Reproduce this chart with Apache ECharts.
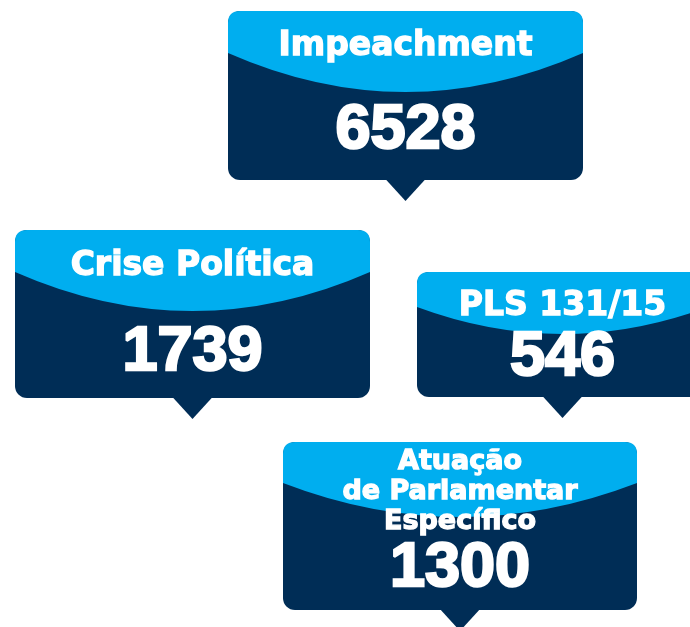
<!DOCTYPE html>
<html>
<head>
<meta charset="utf-8">
<script src="https://cdn.jsdelivr.net/npm/echarts@6/dist/echarts.min.js"></script>
<style>
  html, body { margin: 0; padding: 0; background: #fff; }
  #main { width: 690px; height: 627px; }
</style>
</head>
<body>
<div id="main"></div>
<script>
// dados
const categories = ['Impeachment', 'Crise Política', 'PLS 131/15', 'Atuação\nde Parlamentar\nEspecífico'];
const values = [6528, 1739, 546, 1300];

// posição de cada balão (em px da tela): esquerda, topo, largura, altura, curva borda, curva meio, y titulo, y numero
const boxes = [
  [228, 11, 355, 169, 42, 81, 46, 131],
  [15, 230, 355, 168, 42, 81, 266, 353],
  [417, 272, 291, 125, 35, 62, 306, 358],
  [283, 442, 354, 168, 41, 75, 492, 569]
];

const dark = '#002d56';
const light = '#00aeef';

let chart = echarts.init(document.getElementById('main'));

function renderItem(params, api) {
  const i = api.value(0);
  const b = boxes[i];
  const L = b[0], T = b[1], W = b[2], H = b[3];
  const R = L + W, B = T + H, cx = L + W / 2;
  const E = T + b[4], M = T + b[5], C = 2 * M - E;
  const r = 12;
  const p = (x, y) => api.coord([x, y]);
  const s = (x, y) => p(x, y).join(',');

  const tl = p(L, T);
  const br = p(R, B);

  const topPath = 'M' + s(L, E) + ' L' + s(L, T + r) + ' Q' + s(L, T) + ' ' + s(L + r, T) +
    ' L' + s(R - r, T) + ' Q' + s(R, T) + ' ' + s(R, T + r) + ' L' + s(R, E) +
    ' Q' + s(cx, C) + ' ' + s(L, E) + ' Z';

  return {
    type: 'group',
    children: [
      {
        type: 'polygon',
        shape: { points: [p(cx - 21, B - 2), p(cx + 21, B - 2), p(cx, B + 21)] },
        style: { fill: dark }
      },
      {
        type: 'rect',
        shape: { x: tl[0], y: tl[1], width: br[0] - tl[0], height: br[1] - tl[1], r: r },
        style: { fill: dark }
      },
      {
        type: 'path',
        shape: { pathData: topPath },
        style: { fill: light }
      },
      {
        type: 'text',
        x: p(cx, b[6])[0],
        y: p(cx, b[6])[1],
        style: {
          text: categories[i],
          fill: '#fff',
          font: 'bold ' + (i === 3 ? 27 : 33) + 'px "DejaVu Sans"',
          lineHeight: 30,
          align: 'center',
          verticalAlign: 'middle',
          stroke: '#fff',
          lineWidth: 1.3
        }
      },
      {
        type: 'text',
        x: p(cx, b[7])[0],
        y: p(cx, b[7])[1],
        style: {
          text: String(api.value(1)),
          fill: '#fff',
          font: 'bold 63px "Liberation Sans"',
          align: 'center',
          verticalAlign: 'middle',
          stroke: '#fff',
          lineWidth: 2.5
        }
      }
    ]
  };
}

let option = {
  animation: false,
  grid: { left: 0, right: 0, top: 0, bottom: 0 },
  xAxis: { type: 'value', min: 0, max: 690, show: false },
  yAxis: { type: 'value', min: 0, max: 627, inverse: true, show: false },
  series: [
    {
      type: 'custom',
      renderItem: renderItem,
      data: values.map((v, i) => [i, v])
    }
  ]
};

chart.setOption(option);
</script>
</body>
</html>
